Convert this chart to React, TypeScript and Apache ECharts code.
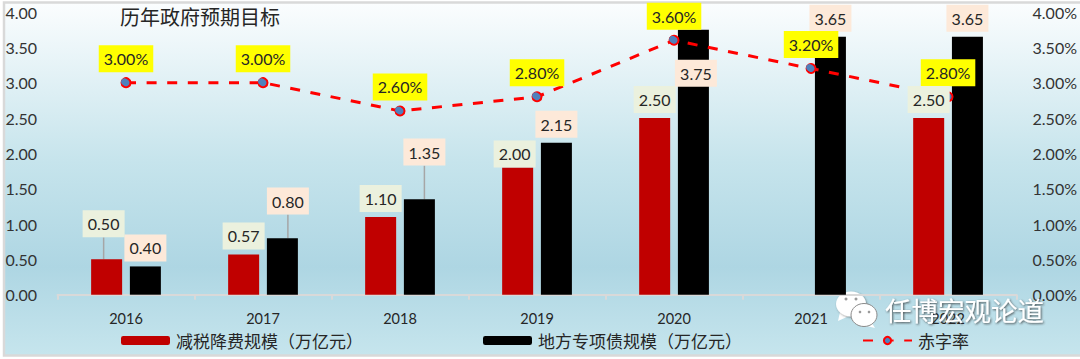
import React, { useEffect, useRef } from "react";
import * as echarts from "echarts";

const categories = ["2016", "2017", "2018", "2019", "2020", "2021", "2022"];
const leftTicks = ["0.00", "0.50", "1.00", "1.50", "2.00", "2.50", "3.00", "3.50", "4.00"];
const taxCut: (number | null)[] = [0.5, 0.57, 1.1, 1.8, 2.5, null, 2.5];
const taxCutLabels = ["0.50", "0.57", "1.10", "2.00", "2.50", "", "2.50"];
const localBonds = [0.4, 0.8, 1.35, 2.15, 3.75, 3.65, 3.65];
const deficit = [3.0, 3.0, 2.6, 2.8, 3.6, 3.2, 2.8];

const taxCutShift = [[-3, -17], [0, 0], [0, 0], [-3, 5], [0, 0], [0, 0], [0, 0]];
const bondShift = [[0, 0], [5.5, -18.6], [5, -28.7], [0, 0], [2.5, 62], [0, 0], [0, 0]];
const taxCutLeader = [true, false, false, false, false, false, false];
const bondLeader = [false, true, true, false, false, false, false];

const INK = "#262626";
const LATIN = "Lato, 'Open Sans', sans-serif";
const CJK = "'Noto Sans CJK SC', sans-serif";

export default function App() {
  const ref = useRef<HTMLDivElement>(null);
  useEffect(() => {
    const chart = echarts.init(ref.current!, undefined, { renderer: "svg" });
    const boxLabel = (bg: string, width = 42) => ({
      show: true,
      position: "top",
      distance: 5,
      width,
      height: 27,
      lineHeight: 27,
      backgroundColor: bg,
      color: INK,
      fontSize: 16,
      fontFamily: LATIN,
    });
    const leader = { lineStyle: { color: "#a6a6a6", width: 1.5 } };
    chart.setOption({
      animation: false,
      backgroundColor: "#ffffff",
      title: {
        text: "历年政府预期目标",
        left: 115,
        top: 1,
        textStyle: { fontSize: 20, fontWeight: "normal", color: INK, fontFamily: CJK },
      },
      graphic: [
        {
          type: "rect",
          z: -10,
          silent: true,
          shape: { x: 4, y: 2.5, width: 1080, height: 353 },
          style: {
            stroke: "#d9d9d9",
            lineWidth: 2.5,
            fill: new echarts.graphic.LinearGradient(0, 0, 0, 1, [
              { offset: 0, color: "#fbfdfe" },
              { offset: 0.45, color: "#c6e4ec" },
              { offset: 0.75, color: "#aed6e3" },
              { offset: 1, color: "#c6e5ed" },
            ]),
          },
        },
        {
          type: "group",
          z: 50,
          silent: true,
          children: [
            { type: "polygon", shape: { points: [[840, 312], [838, 321], [849, 316]] }, style: { fill: "#fff" } },
            { type: "ellipse", shape: { cx: 851, cy: 304, rx: 15, ry: 12.5 }, style: { fill: "#fff", shadowColor: "rgba(60,60,60,.6)", shadowBlur: 2, shadowOffsetX: 1, shadowOffsetY: 1 } },
            { type: "polygon", shape: { points: [[870, 320], [875, 328], [862, 325]] }, style: { fill: "#fff" } },
            { type: "ellipse", shape: { cx: 864, cy: 315, rx: 13, ry: 11.5 }, style: { fill: "#fff", stroke: "#8a8a8a", lineWidth: 1 } },
            { type: "circle", shape: { cx: 846, cy: 299, r: 1.5 }, style: { fill: "#9a9a9a" } },
            { type: "circle", shape: { cx: 856, cy: 299, r: 1.5 }, style: { fill: "#9a9a9a" } },
            { type: "circle", shape: { cx: 860, cy: 312, r: 1.3 }, style: { fill: "#9a9a9a" } },
            { type: "circle", shape: { cx: 869, cy: 312, r: 1.3 }, style: { fill: "#9a9a9a" } },
          ],
        },
        {
          type: "text",
          z: 50,
          silent: true,
          x: 885,
          y: 296,
          style: {
            text: "任博宏观论道",
            fill: "#ffffff",
            font: `26.5px ${CJK}`,
            textShadowColor: "rgba(50,50,50,.8)",
            textShadowBlur: 2,
            textShadowOffsetX: 1,
            textShadowOffsetY: 1,
          },
        },
      ],
      legend: {
        left: 116,
        top: 327,
        itemGap: 120,
        itemWidth: 49,
        itemHeight: 9,
        data: ["减税降费规模（万亿元）", "地方专项债规模（万亿元）", "赤字率"],
        textStyle: { fontSize: 17, color: INK, fontFamily: CJK, padding: [0, 0, 0, 1] },
      },
      grid: { left: 57.5, right: 63, top: 12, bottom: 64.3 },
      xAxis: {
        type: "category",
        data: categories,
        axisLine: { lineStyle: { color: "#d9d9d9", width: 2 } },
        axisTick: { show: true, length: 5, lineStyle: { color: "#d9d9d9", width: 2 } },
        axisLabel: { color: INK, fontSize: 14.5, fontFamily: LATIN, margin: 16 },
      },
      yAxis: [
        {
          type: "value",
          min: 0,
          max: 4,
          interval: 0.5,
          axisLine: { show: false },
          axisTick: { show: false },
          splitLine: { show: false },
          axisLabel: {
            color: "#333333",
            fontSize: 16,
            fontFamily: LATIN,
            margin: 20.5,
            formatter: (_: number, i: number) => leftTicks[i],
          },
        },
        {
          type: "value",
          min: 0,
          max: 4,
          interval: 0.5,
          axisLine: { show: false },
          axisTick: { show: false },
          splitLine: { show: false },
          axisLabel: {
            color: "#333333",
            fontSize: 16,
            fontFamily: LATIN,
            margin: 16,
            formatter: (_: number, i: number) => leftTicks[i] + "%",
          },
        },
      ],
      series: [
        {
          name: "减税降费规模（万亿元）",
          type: "bar",
          z: 7,
          barWidth: 31,
          barGap: "25%",
          itemStyle: { color: "#c00000" },
          labelLine: leader,
          labelLayout: (p: any) => ({ dx: taxCutShift[p.dataIndex][0], dy: taxCutShift[p.dataIndex][1] }),
          label: { ...boxLabel("#ebf1de"), align: "center", formatter: (p: any) => taxCutLabels[p.dataIndex] },
          data: taxCut.map((value, i) => ({ value, labelLine: { show: taxCutLeader[i] } })),
        },
        {
          name: "地方专项债规模（万亿元）",
          type: "bar",
          barWidth: 31,
          barGap: "25%",
          itemStyle: { color: "#000000" },
          labelLine: leader,
          labelLayout: (p: any) => ({ dx: bondShift[p.dataIndex][0], dy: bondShift[p.dataIndex][1] }),
          label: { ...boxLabel("#fde9d9"), align: "center", formatter: (p: any) => localBonds[p.dataIndex].toFixed(2) },
          data: localBonds.map((value, i) => ({ value, labelLine: { show: bondLeader[i] } })),
        },
        {
          name: "赤字率",
          type: "line",
          yAxisIndex: 1,
          z: 5,
          symbol: "circle",
          symbolSize: 9,
          lineStyle: { color: "#ff0000", width: 3, type: [10, 10.6] },
          itemStyle: { color: "#4f81bd", borderColor: "#ff0000", borderWidth: 2 },
          label: { ...boxLabel("#ffff00", 54.5), align: "center", distance: 5, formatter: (p: any) => Number(p.value).toFixed(2) + "%" },
          data: deficit,
        },
        {
          name: "赤字率点",
          type: "line",
          yAxisIndex: 1,
          z: 6,
          symbol: "circle",
          symbolSize: 7,
          symbolOffset: [-1.5, -1],
          lineStyle: { width: 0, opacity: 0 },
          itemStyle: { color: "#4f81bd" },
          data: deficit,
        },
      ],
    });
    return () => chart.dispose();
  }, []);
  return <div ref={ref} style={{ position: "fixed", left: 0, top: 0, width: 1080, height: 359 }} />;
}
